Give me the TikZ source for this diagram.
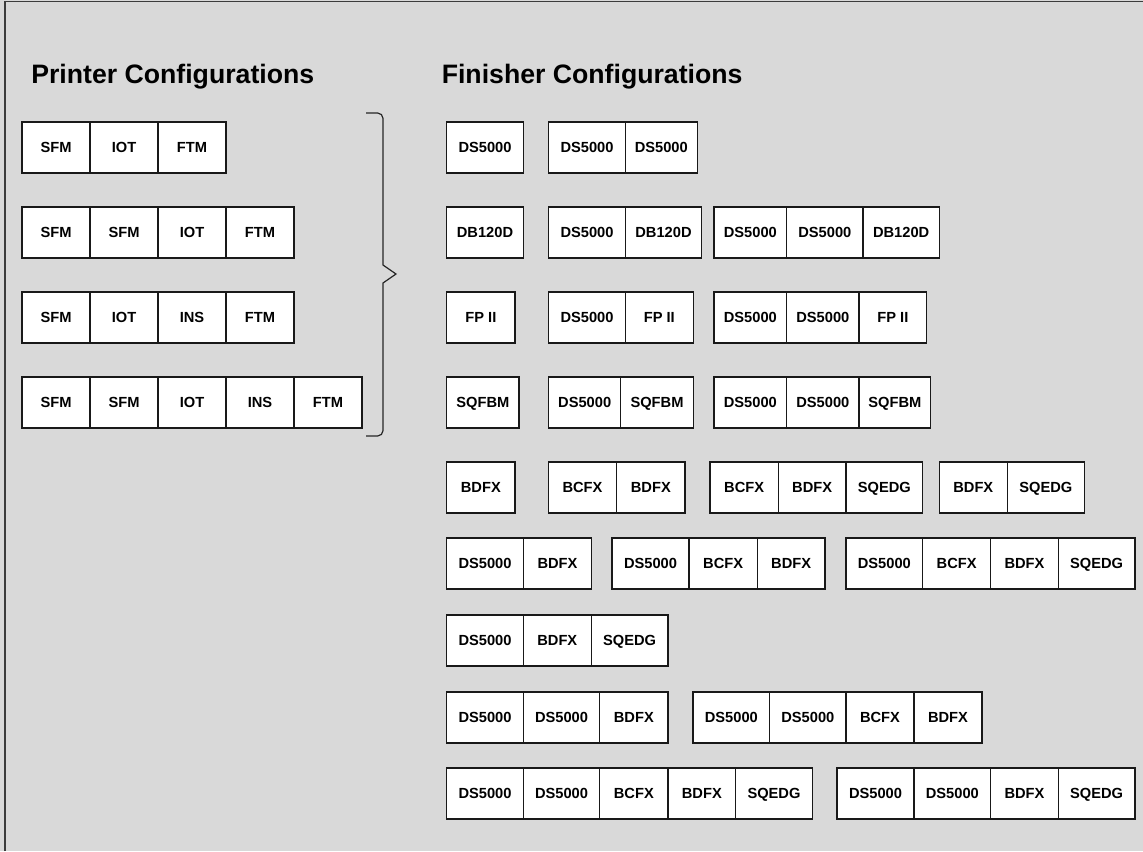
\documentclass[tikz,border=0pt]{standalone}
\usepackage{fontspec}
\setmainfont{Liberation Sans}
\definecolor{panelgray}{RGB}{217,217,217}
\definecolor{framegray}{RGB}{60,60,60}

\begin{document}
\begin{tikzpicture}
  [
    x=0.75pt, y=-0.75pt,
    title/.style={anchor=base west,inner sep=0pt,font=\bfseries\fontsize{20}{24}\selectfont},
    cell/.style={draw=black!90,line width=1pt,fill=white,inner sep=0pt,
      text height=7.9pt,text depth=0pt,
      minimum height=38.25pt,font=\bfseries\fontsize{11}{13}\selectfont}
  ]
  \useasboundingbox (0,0) rectangle (1143,851);
  \fill[panelgray] (0,0) rectangle (1143,851);
  \draw[framegray,line width=0.8pt] (5,851) -- (5,1.5) -- (1143,1.5);
  % titles
  \node[title] (ptitle) at (31,83.3) {Printer Configurations};
  \node[title] (ftitle) at (441.5,83.3) {Finisher Configurations};
  % printer rows
  \foreach \r/\y/\cells in {1/122/{SFM,IOT,FTM},
                            2/207/{SFM,SFM,IOT,FTM},
                            3/292/{SFM,IOT,INS,FTM},
                            4/377/{SFM,SFM,IOT,INS,FTM}} {
      \foreach \t [count=\c] in \cells {
          \node[cell,minimum width=51pt] (p\r-\c) at ({22+68*(\c-1)+34},{\y+25.5}) {\t};
      }
  }
  % brace
  \draw[black!85,line width=0.9pt]
  (366,113) [rounded corners=4pt] -- (383,113) -- (383,200) [sharp corners]
  -- (383,265) -- (396,274) -- (383,283)
  -- (383,350) [rounded corners=4pt] -- (383,436) -- (366,436);
  % finisher rows
  \foreach \r/\y/\cells in {
      1/122/{446.7/523.3/DS5000, 548.7/625.3/DS5000, 625.3/697.3/DS5000},
      2/207/{446.7/523.3/DB120D, 548.7/625.3/DS5000, 625.3/701.7/DB120D,
             714/786.7/DS5000, 786.7/863/DS5000, 863/939.3/DB120D},
      3/292/{446.7/515/FP II, 548.7/625.3/DS5000, 625.3/693.3/FP II,
             714/786.7/DS5000, 786.7/859/DS5000, 859/926.7/FP II},
      4/377/{446.7/519/SQFBM, 548.7/620.7/DS5000, 620.7/693.3/SQFBM,
             714/786.7/DS5000, 786.7/859/DS5000, 859/930.7/SQFBM},
      5/462/{446.7/515/BDFX, 548.3/616.7/BCFX, 616.7/685/BDFX,
             710/778.3/BCFX, 778.3/846/BDFX, 846/922.7/SQEDG,
             939.3/1007.3/BDFX, 1007.3/1084.3/SQEDG},
      6/538/{446.7/523.3/DS5000, 523.3/591.7/BDFX,
             612/689/DS5000, 689/757.3/BCFX, 757.3/825/BDFX,
             846/922.7/DS5000, 922.7/990.7/BCFX, 990.7/1058.3/BDFX, 1058.3/1135/SQEDG},
      7/615/{446.7/523.3/DS5000, 523.3/591.3/BDFX, 591.3/668/SQEDG},
      8/692/{446.7/523.3/DS5000, 523.3/599.7/DS5000, 599.7/668/BDFX,
             693/769.7/DS5000, 769.7/846/DS5000, 846/914/BCFX, 914/982/BDFX},
      9/768/{446.7/523.3/DS5000, 523.3/599.7/DS5000, 599.7/668/BCFX, 668/735.7/BDFX, 735.7/812.3/SQEDG,
             837/914/DS5000, 914/990.7/DS5000, 990.7/1058.3/BDFX, 1058.3/1135/SQEDG}} {
      \foreach \a/\b/\t [count=\c] in \cells {
          \pgfmathsetmacro\w{(\b-\a)*0.75}
          \node[cell,minimum width=\w pt] (f\r-\c) at ({(\a+\b)/2},{\y+25.5}) {\t};
      }
  }
\end{tikzpicture}
\end{document}
